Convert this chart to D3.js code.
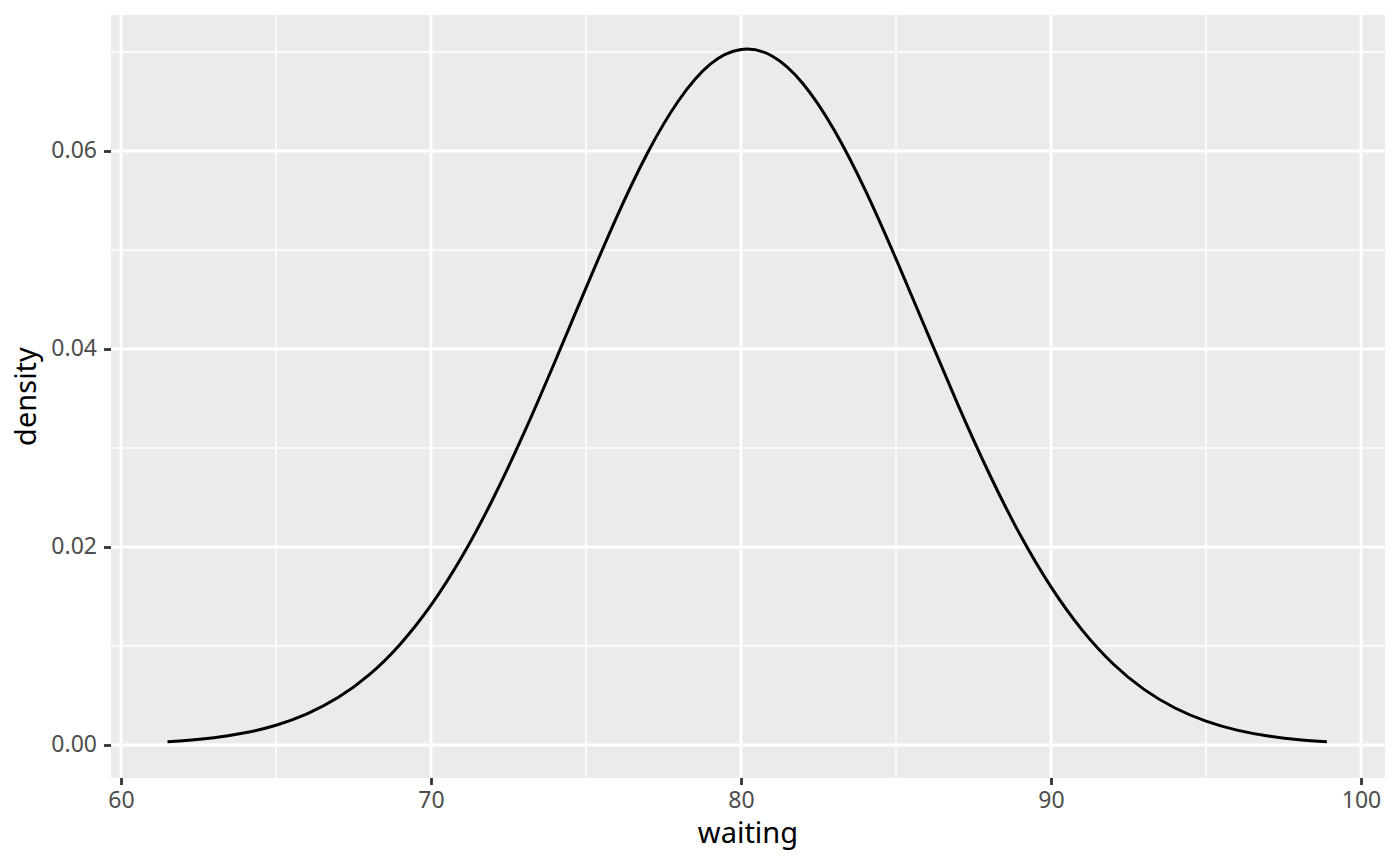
<!DOCTYPE html>
<html lang="en">
	<head>
		<meta charset="UTF-8" />
		<title>Density of waiting</title>
		<script src="https://d3js.org/d3.v7.min.js"></script>
		<style>
			body { margin: 0; background: #ffffff; }
			svg { display: block; font-family: "Noto Sans", "DejaVu Sans", sans-serif; }
		</style>
	</head>
	<body>
		<script>
			// waiting values and their density
			var waiting = [61.5, 62, 63, 64, 65, 66, 67, 68, 69, 70, 71, 72, 73, 74, 75, 76, 77, 78, 79, 80,
				81, 82, 83, 84, 85, 86, 87, 88, 89, 90, 91, 92, 93, 94, 95, 96, 97, 98, 98.9];
			var density = [0.00032, 0.00043, 0.00074, 0.00123, 0.00200, 0.00315, 0.00479, 0.00708, 0.01016, 0.01412,
				0.01903, 0.02487, 0.03152, 0.03874, 0.04617, 0.05340, 0.05990, 0.06515, 0.06875, 0.07025,
				0.06960, 0.06680, 0.06215, 0.05610, 0.04910, 0.04171, 0.03436, 0.02745, 0.02126, 0.01597,
				0.01163, 0.00821, 0.00562, 0.00374, 0.00241, 0.00150, 0.00091, 0.00053, 0.00032];

			var xTicks = [60, 70, 80, 90, 100];
			var xMinor = [65, 75, 85, 95];
			var yTicks = [0, 0.02, 0.04, 0.06];
			var yMinor = [0.01, 0.03, 0.05, 0.07];

			var w = 1400;
			var h = 866;
			var panel = { left: 111, right: 1385, top: 15, bottom: 778 };

			var xScale = d3.scaleLinear()
				.domain([59.677, 100.774])
				.range([panel.left, panel.right]);

			var yScale = d3.scaleLinear()
				.domain([-0.003333, 0.073737])
				.range([panel.bottom, panel.top]);

			var svg = d3.select("body")
				.append("svg")
				.attr("width", w)
				.attr("height", h);

			// panel background
			svg.append("rect")
				.attr("x", panel.left)
				.attr("y", panel.top)
				.attr("width", panel.right - panel.left)
				.attr("height", panel.bottom - panel.top)
				.attr("fill", "#ebebeb");

			var grid = svg.append("g");

			// minor grid
			grid.selectAll("line.xminor")
				.data(xMinor)
				.enter()
				.append("line")
				.attr("class", "xminor")
				.attr("x1", function (d) { return xScale(d); })
				.attr("x2", function (d) { return xScale(d); })
				.attr("y1", panel.top)
				.attr("y2", panel.bottom)
				.attr("stroke", "#ffffff")
				.attr("stroke-width", 1.4);

			grid.selectAll("line.yminor")
				.data(yMinor)
				.enter()
				.append("line")
				.attr("class", "yminor")
				.attr("x1", panel.left)
				.attr("x2", panel.right)
				.attr("y1", function (d) { return yScale(d); })
				.attr("y2", function (d) { return yScale(d); })
				.attr("stroke", "#ffffff")
				.attr("stroke-width", 1.4);

			// major grid
			grid.selectAll("line.xmajor")
				.data(xTicks)
				.enter()
				.append("line")
				.attr("class", "xmajor")
				.attr("x1", function (d) { return xScale(d); })
				.attr("x2", function (d) { return xScale(d); })
				.attr("y1", panel.top)
				.attr("y2", panel.bottom)
				.attr("stroke", "#ffffff")
				.attr("stroke-width", 2.8);

			grid.selectAll("line.ymajor")
				.data(yTicks)
				.enter()
				.append("line")
				.attr("class", "ymajor")
				.attr("x1", panel.left)
				.attr("x2", panel.right)
				.attr("y1", function (d) { return yScale(d); })
				.attr("y2", function (d) { return yScale(d); })
				.attr("stroke", "#ffffff")
				.attr("stroke-width", 2.8);

			// the density curve
			var pts = waiting.map(function (x, i) { return [x, density[i]]; });
			var line = d3.line()
				.x(function (d) { return xScale(d[0]); })
				.y(function (d) { return yScale(d[1]); })
				.curve(d3.curveNatural);

			svg.append("path")
				.datum(pts)
				.attr("d", line)
				.attr("fill", "none")
				.attr("stroke", "#000000")
				.attr("stroke-width", 3);

			// x axis
			var xAxis = svg.append("g")
				.attr("transform", "translate(0," + panel.bottom + ")")
				.call(d3.axisBottom(xScale)
					.tickValues(xTicks)
					.tickSize(7)
					.tickPadding(6)
					.tickFormat(d3.format("d")));
			xAxis.select(".domain").remove();
			xAxis.selectAll(".tick line").attr("stroke", "#333333").attr("stroke-width", 2.8);
			xAxis.selectAll(".tick text")
				.attr("fill", "#4d4d4d")
				.attr("font-size", "23px")
				.attr("font-family", "Noto Sans")
				.attr("dy", "0.72em");

			// y axis
			var yAxis = svg.append("g")
				.attr("transform", "translate(" + panel.left + ",0)")
				.call(d3.axisLeft(yScale)
					.tickValues(yTicks)
					.tickSize(7)
					.tickPadding(7)
					.tickFormat(d3.format(".2f")));
			yAxis.select(".domain").remove();
			yAxis.selectAll(".tick line").attr("stroke", "#333333").attr("stroke-width", 2.8);
			yAxis.selectAll(".tick text")
				.attr("fill", "#4d4d4d")
				.attr("font-size", "23px")
				.attr("font-family", "Noto Sans")
				.attr("dy", "0.3em");

			// axis titles
			svg.append("text")
				.attr("x", (panel.left + panel.right) / 2)
				.attr("y", 843)
				.attr("text-anchor", "middle")
				.attr("font-size", "29px")
				.attr("fill", "#000000")
				.text("waiting");

			svg.append("text")
				.attr("transform", "translate(36," + (panel.top + panel.bottom) / 2 + ") rotate(-90)")
				.attr("text-anchor", "middle")
				.attr("font-size", "29px")
				.attr("fill", "#000000")
				.text("density");
		</script>
	</body>
</html>
